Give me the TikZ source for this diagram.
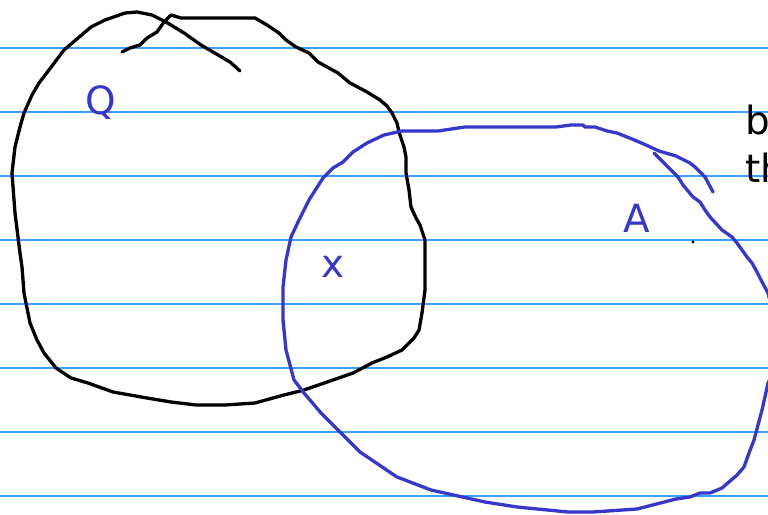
\documentclass[tikz,border=0pt]{standalone}
\usepackage{fontspec}
\setmainfont{DejaVu Sans}
\definecolor{ruled}{RGB}{60,160,255}
\definecolor{ink}{RGB}{55,55,205}
\begin{document}
\begin{tikzpicture}[x=1bp,y=-1bp,
  rule/.style={draw=ruled,line width=1.1bp},
  blackink/.style={draw=black,line width=3.3bp,line join=round,line cap=round},
  blueink/.style={draw=ink,line width=3.3bp,line join=round,line cap=round},
  lbl/.style={text=ink,font=\fontsize{39}{46}\selectfont,inner sep=0pt,anchor=base},
  txt/.style={text=black,font=\fontsize{39}{46}\selectfont,inner sep=0pt,anchor=base west}]
\useasboundingbox (0,0) rectangle (768,515);
\clip (0,0) rectangle (768,515);
\fill[white] (0,0) rectangle (768,515);
% ruled lines
\foreach \yy in {48,112,176,240,304,368,432,496}
  \draw[rule] (0,\yy) -- (768,\yy);
% black loop (Q)
\draw[blackink] (122,52) -- (130,48) -- (140,45) -- (147,38) -- (157,32) -- (164,22) -- (171,15)
 -- (181,18) -- (255,18) -- (267,25) -- (279,33) -- (286,40) -- (296,47) -- (309,53) -- (318,62)
 -- (338,73) -- (350,83) -- (367,92) -- (380,100) -- (387,106) -- (392,113) -- (397,123)
 -- (399,132) -- (404,147) -- (406,157) -- (406,173) -- (409,190) -- (411,207) -- (416,218)
 -- (420,225) -- (425,240) -- (425,290) -- (422,313) -- (419,330) -- (414,338) -- (402,350)
 -- (387,357) -- (372,363) -- (353,373) -- (333,380) -- (304,390) -- (284,395) -- (255,403)
 -- (225,405) -- (196,405) -- (171,402) -- (147,398) -- (113,392) -- (88,383) -- (71,378)
 -- (56,368) -- (44,353) -- (37,340) -- (30,323) -- (24,293) -- (22,267) -- (20,253)
 -- (15,213) -- (12,173) -- (15,147) -- (20,127) -- (24,113) -- (32,95) -- (39,83) -- (49,70)
 -- (64,50) -- (91,27) -- (105,20) -- (125,13) -- (137,12) -- (152,15) -- (166,22) -- (184,33)
 -- (201,45) -- (230,62) -- (240,71);
% blue loop (A)
\draw[blueink] (654,153) -- (678,177) -- (683,185) -- (693,197) -- (700,202) -- (705,210)
 -- (710,217) -- (722,230) -- (732,237) -- (737,243) -- (747,257) -- (752,263) -- (757,272)
 -- (761,280) -- (768,293) -- (775,320) -- (775,370) -- (768,383) -- (762,410) -- (754,440)
 -- (749,453) -- (744,467) -- (737,475) -- (722,488) -- (710,493) -- (700,493) -- (690,497)
 -- (676,499) -- (637,509) -- (593,512) -- (568,512) -- (517,507) -- (485,502) -- (431,490)
 -- (397,477) -- (360,452) -- (338,430) -- (321,413) -- (304,393) -- (294,380) -- (286,350)
 -- (283,320) -- (283,287) -- (286,260) -- (291,237) -- (299,220) -- (309,200) -- (323,178)
 -- (333,168) -- (343,162) -- (353,152) -- (367,143) -- (384,135) -- (402,131) -- (438,131)
 -- (465,127) -- (556,127) -- (571,125) -- (583,125) -- (585,127) -- (595,127) -- (607,131)
 -- (617,133) -- (632,139) -- (646,145) -- (659,151) -- (676,156) -- (690,163) -- (695,167)
 -- (705,177) -- (713,192);
% labels
\node[lbl] (q) at (101,115) {Q};
\node[lbl] (x) at (333,278) {x};
\node[lbl] (a) at (637,233) {A};
\node[txt] (b) at (745,135) {b};
\node[txt] (th) at (745,183) {th};
\fill[black] (693,242) circle (1.6);
\end{tikzpicture}
\end{document}
